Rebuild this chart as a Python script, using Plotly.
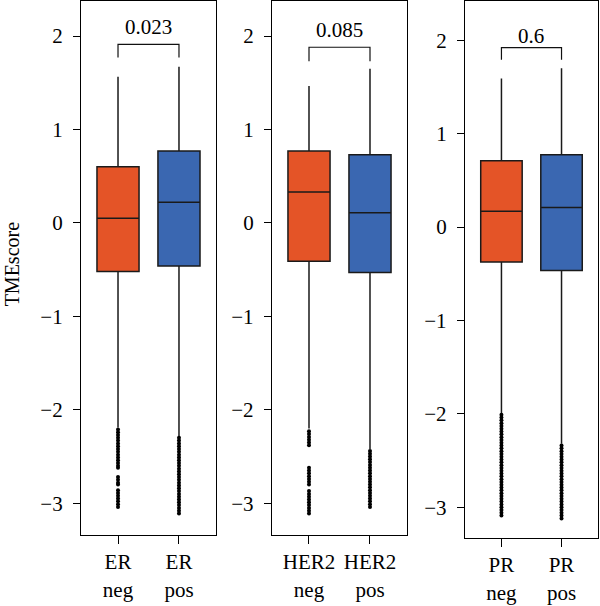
import plotly.graph_objects as go

# ---- data ----
panels = ["ER", "HER2", "PR"]
group_labels = [["ER<br>neg", "ER<br>pos"], ["HER2<br>neg", "HER2<br>pos"], ["PR<br>neg", "PR<br>pos"]]
q1 = [[-0.52, -0.46], [-0.41, -0.53], [-0.375, -0.465]]
median = [[0.05, 0.22], [0.33, 0.11], [0.17, 0.21]]
q3 = [[0.60, 0.77], [0.77, 0.73], [0.71, 0.775]]
upper_fence = [[1.565, 1.67], [1.465, 1.65], [1.59, 1.70]]
lower_fence = [[-2.19, -2.29], [-2.20, -2.42], [-2.00, -2.32]]
outliers = [
    [
        [-2.21, -2.24, -2.27, -2.30, -2.33, -2.36, -2.39, -2.42, -2.45, -2.48, -2.51, -2.54, -2.57, -2.60, -2.62,
         -2.72, -2.75, -2.78, -2.80,
         -2.86, -2.89, -2.92, -2.95, -2.98, -3.01, -3.04],
        [-2.30, -2.33, -2.36, -2.39, -2.42, -2.45, -2.48, -2.51, -2.54, -2.57, -2.60, -2.63, -2.66, -2.69, -2.72,
         -2.75, -2.78, -2.81, -2.84, -2.87, -2.90, -2.93, -2.96, -2.99, -3.02, -3.05, -3.08, -3.11],
    ],
    [
        [-2.23, -2.26, -2.29, -2.32, -2.35, -2.38,
         -2.62, -2.65, -2.68, -2.71, -2.74, -2.77, -2.80,
         -2.87, -2.90, -2.93, -2.96, -2.99, -3.02, -3.05, -3.08, -3.11],
        [-2.44, -2.47, -2.50, -2.53, -2.56, -2.59, -2.62, -2.65, -2.68, -2.71, -2.74, -2.77, -2.80, -2.83, -2.86,
         -2.89, -2.92, -2.95, -2.98, -3.01, -3.04],
    ],
    [
        [-2.01, -2.04, -2.07, -2.10, -2.13, -2.16, -2.19, -2.22, -2.25, -2.28, -2.31, -2.34, -2.37, -2.40, -2.43,
         -2.46, -2.49, -2.52, -2.55, -2.58, -2.61, -2.64, -2.67, -2.70, -2.73, -2.76, -2.79, -2.82, -2.85, -2.88,
         -2.91, -2.94, -2.97, -3.00, -3.03, -3.06, -3.09],
        [-2.34, -2.37, -2.40, -2.43, -2.46, -2.49, -2.52, -2.55, -2.58, -2.61, -2.64, -2.67, -2.70, -2.73, -2.76,
         -2.79, -2.82, -2.85, -2.88, -2.91, -2.94, -2.97, -3.00, -3.03, -3.06, -3.09, -3.12],
    ],
]
p_values = ["0.023", "0.085", "0.6"]
bracket_top = [1.91, 1.88, 1.92]
bracket_bottom = [1.77, 1.73, 1.79]
p_text_y = [2.10, 2.07, 2.05]
y_ranges = [[-3.34, 2.375], [-3.34, 2.375], [-3.33, 2.42]]
y_ticks = [-3, -2, -1, 0, 1, 2]

# ---- style ----
colors = ["#E45427", "#3A67B1"]
FONT = "Liberation Serif, Times New Roman, serif"
x_domains = [[0.0, 0.2611], [0.3694, 0.6306], [0.7427, 1.0]]
y_domains = [[0.0056, 1.0], [0.0056, 1.0], [0.0, 1.0]]

fig = go.Figure()
shapes = []
annotations = []
for i in range(3):
    xa = "x" if i == 0 else f"x{i+1}"
    ya = "y" if i == 0 else f"y{i+1}"
    for j in range(2):
        pos = j + 1
        fig.add_trace(go.Box(
            x=[pos], q1=[q1[i][j]], median=[median[i][j]], q3=[q3[i][j]],
            lowerfence=[lower_fence[i][j]], upperfence=[upper_fence[i][j]],
            width=0.69, fillcolor=colors[j], line=dict(color="#1a1a1a", width=1.5),
            whiskerwidth=0, boxpoints=False, xaxis=xa, yaxis=ya, showlegend=False,
            hoverinfo="skip",
        ))
        fig.add_trace(go.Scatter(
            x=[pos] * len(outliers[i][j]), y=outliers[i][j], mode="markers",
            marker=dict(color="black", size=4, symbol="circle"),
            xaxis=xa, yaxis=ya, showlegend=False, hoverinfo="skip",
        ))
    # bracket
    shapes.append(dict(
        type="path", xref=xa, yref=ya,
        path=f"M 1 {bracket_bottom[i]} L 1 {bracket_top[i]} L 2 {bracket_top[i]} L 2 {bracket_bottom[i]}",
        line=dict(color="#111111", width=1.2),
    ))
    annotations.append(dict(
        x=1.5, y=p_text_y[i], xref=xa, yref=ya, text=p_values[i], showarrow=False,
        font=dict(family=FONT, size=21, color="black"), yanchor="middle",
    ))
    xkey = "xaxis" if i == 0 else f"xaxis{i+1}"
    ykey = "yaxis" if i == 0 else f"yaxis{i+1}"
    fig.update_layout(**{
        xkey: dict(
            domain=x_domains[i], range=[0.393, 2.607], anchor=ya,
            tickvals=[1, 2], ticktext=group_labels[i], ticks="outside", ticklen=8,
            tickcolor="black", tickwidth=1, showline=True, linecolor="black", linewidth=1.3,
            mirror=True, showgrid=False, zeroline=False,
            tickfont=dict(family=FONT, size=21, color="black"), fixedrange=True,
        ),
        ykey: dict(
            domain=y_domains[i], range=y_ranges[i], anchor=xa,
            tickvals=y_ticks, ticks="outside", ticklen=7, tickcolor="black", tickwidth=1,
            showline=True, linecolor="black", linewidth=1.3, mirror=True,
            showgrid=False, zeroline=False, ticklabelstandoff=6,
            tickfont=dict(family=FONT, size=21, color="black"), fixedrange=True,
        ),
    })

annotations.append(dict(
    x=-0.133, y=0.51, xref="paper", yref="paper", text="TMEscore", textangle=-90,
    showarrow=False, font=dict(family=FONT, size=20, color="black"),
    xanchor="center", yanchor="middle",
))

fig.update_layout(
    width=600, height=606,
    margin=dict(l=81, r=2, t=1, b=68),
    paper_bgcolor="white", plot_bgcolor="white",
    shapes=shapes, annotations=annotations,
    boxmode="overlay",
)

fig.write_html("out.html")
